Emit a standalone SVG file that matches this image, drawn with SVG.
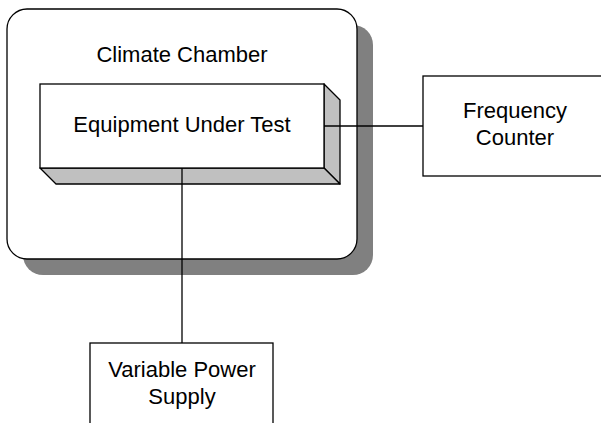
<svg xmlns="http://www.w3.org/2000/svg" width="601" height="423" viewBox="0 0 601 423">
<style>
.t{font-family:"Liberation Sans",Arial,sans-serif;font-size:22px;fill:#000;text-anchor:middle}
.b{fill:#fff;stroke:#000;stroke-width:1.3}
.c{stroke:#000;stroke-width:1.3;fill:none}
</style>
<rect width="601" height="423" fill="#fff"/>
<g id="chamber">
<rect x="23" y="25" width="350" height="250" rx="20" fill="#808080"/>
<rect class="b" x="7" y="9" width="350" height="250" rx="20" stroke-width="1.5"/>
<text class="t" x="182" y="62">Climate Chamber</text>
</g>
<g id="eut">
<polygon points="324,84 340,100 340,184 324,168" fill="#c0c0c0" stroke="#000" stroke-width="1.3" stroke-linejoin="round"/>
<polygon points="40,168 324,168 340,184 56,184" fill="#c0c0c0" stroke="#000" stroke-width="1.3" stroke-linejoin="round"/>
<rect class="b" x="40" y="84" width="284" height="84"/>
<text class="t" x="182" y="132">Equipment Under Test</text>
</g>
<g id="connectors">
<line class="c" x1="324" y1="126" x2="423" y2="126"/>
<line class="c" x1="182" y1="168" x2="182" y2="343"/>
</g>
<g id="freq">
<rect class="b" x="423" y="76" width="190" height="100"/>
<text class="t" x="515" y="118">Frequency</text>
<text class="t" x="515" y="145">Counter</text>
</g>
<g id="vps">
<rect class="b" x="90" y="343" width="183" height="100"/>
<text class="t" x="182" y="377">Variable Power</text>
<text class="t" x="182" y="404">Supply</text>
</g>
</svg>
